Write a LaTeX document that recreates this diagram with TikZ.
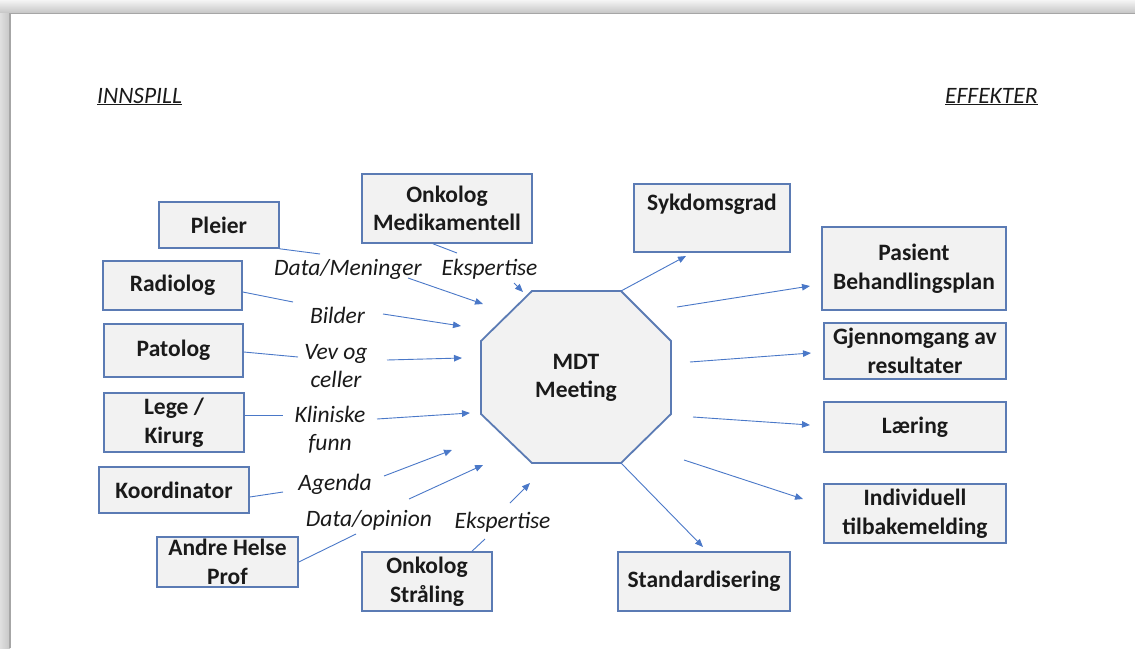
\documentclass[tikz,border=0pt]{standalone}
\usepackage{fontspec}
\setmainfont{Carlito}
\usetikzlibrary{arrows.meta}
\definecolor{boxline}{HTML}{5B7BB4}
\definecolor{boxfill}{HTML}{F2F2F2}
\definecolor{arrowblue}{HTML}{4A78C8}
\definecolor{inktext}{HTML}{1A1A1A}

\begin{document}
\begin{tikzpicture}[x=1pt,y=-1pt,
  every node/.style={text=inktext},
  box/.style={draw=boxline, fill=boxfill, line width=1.6pt, align=center,
    inner sep=2pt, font=\fontsize{23.5}{28.5}\selectfont\bfseries},
  lbl/.style={align=center, inner sep=0pt, font=\fontsize{23.5}{28}\selectfont\itshape},
  hdr/.style={inner sep=0pt, font=\fontsize{23.5}{28}\selectfont\itshape},
  link/.style={draw=arrowblue, line width=0.9pt},
  arr/.style={link, -{Triangle[length=8pt,width=6.5pt]}},
  octo/.style={draw=boxline, fill=boxfill, line width=1.8pt, line join=miter}
]
\useasboundingbox (0,0) rectangle (1135,648);
\fill[white] (0,0) rectangle (1135,648);

% page edge shadow
\shade[top color=gray!8, bottom color=gray!45] (0,0) rectangle (1135,13);
\shade[left color=gray!25, right color=gray!45] (0,13) rectangle (10,648);
\draw[gray!70, line width=1.2pt] (10,648) -- (10,13.5) -- (1135,13.5);

% headings
\node[hdr, anchor=base west] (innspill) at (97,103) {\underline{INNSPILL}};
\node[hdr, anchor=base west] (effekter) at (945,103) {\underline{EFFEKTER}};

% central meeting
\draw[octo] (532,291) -- (621,291) -- (671,341) -- (671,414) -- (621,463)
  -- (532,463) -- (481,414) -- (481,341) -- cycle;
\coordinate (oTR) at (621,291);
\coordinate (oBR) at (621,463);
\node[align=center, inner sep=0pt, font=\fontsize{23.5}{28.5}\selectfont\bfseries]
  (mdt) at (576,378) {MDT\\Meeting};

% input boxes
\node[box, minimum width=120, minimum height=46] (pleier) at (219,225) {Pleier};
\node[box, minimum width=170, minimum height=69] (onkmed) at (447,208.5) {Onkolog\\Medikamentell};
\node[box, minimum width=139, minimum height=49] (radiolog) at (172.5,285.5) {Radiolog};
\node[box, minimum width=139, minimum height=53] (patolog) at (173.5,350.5) {Patolog};
\node[box, minimum width=140, minimum height=59] (lege) at (174,422.5) {Lege /\\Kirurg};
\node[box, minimum width=150, minimum height=46] (koord) at (174,490) {Koordinator};
\node[box, minimum width=141, minimum height=50] (andre) at (227.5,562) {Andre Helse\\Prof};
\node[box, minimum width=130, minimum height=59] (onkstr) at (427,581.5) {Onkolog\\Stråling};

% effect boxes
\node[box, minimum width=156, text height=23pt, text depth=37pt, inner ysep=4pt,
  anchor=north] (sykd) at (712,183) {Sykdomsgrad};
\node[box, minimum width=184, minimum height=83] (pasient) at (914,268.5) {Pasient\\Behandlingsplan};
\node[box, minimum width=182, minimum height=56] (gjenn) at (915,351) {Gjennomgang av\\resultater};
\node[box, minimum width=182, minimum height=50] (laering) at (915,427) {Læring};
\node[box, minimum width=182, minimum height=59] (indiv) at (915,513.5) {Individuell\\tilbakemelding};
\node[box, minimum width=172, minimum height=59] (standard) at (704,581.5) {Standardisering};

% input labels
\node[lbl] (dm) at (348,269) {Data/Meninger};
\node[lbl] (ek1) at (489.5,269) {Ekspertise};
\node[lbl] (bi) at (337.5,315) {Bilder};
\node[lbl] (vev) at (336,366) {Vev og\\celler};
\node[lbl] (kf) at (330,430) {Kliniske\\funn};
\node[lbl] (ag) at (335,484) {Agenda};
\node[lbl] (do) at (369,520) {Data/opinion};
\node[lbl] (ek2) at (502.5,522) {Ekspertise};

% break points around the labels and arrow ends
\coordinate (a1) at (320,254);  \coordinate (b1) at (408,278);  \coordinate (c1) at (483,304);
\coordinate (a2) at (457,253);  \coordinate (b2) at (514,283);  \coordinate (c2) at (523,292);
\coordinate (a3) at (293,302);  \coordinate (b3) at (383,314);  \coordinate (c3) at (461,326);
\coordinate (a4) at (298,357);  \coordinate (b4) at (387,360);  \coordinate (c4) at (462,358);
\coordinate (a5) at (283,415);  \coordinate (b5) at (377,419);  \coordinate (c5) at (470,413);
\coordinate (a6) at (283,492);  \coordinate (b6) at (384,476);  \coordinate (c6) at (452,450);
\coordinate (a7) at (356,534);  \coordinate (b7) at (409,499);  \coordinate (c7) at (483,465);
\coordinate (a8) at (485,539);  \coordinate (b8) at (510,503);  \coordinate (c8) at (530,483);

% input connectors
\draw[link] (pleier.south east) -- (a1);          \draw[arr] (b1) -- (c1);
\draw[link] ([xshift=-14pt]onkmed.south) -- (a2); \draw[arr] (b2) -- (c2);
\draw[link] ([yshift=-6.5pt]radiolog.east) -- (a3); \draw[arr] (b3) -- (c3);
\draw[link] ([yshift=-1.5pt]patolog.east) -- (a4); \draw[arr] (b4) -- (c4);
\draw[link] ([yshift=7.5pt]lege.east) -- (a5);    \draw[arr] (b5) -- (c5);
\draw[link] ([yshift=-7pt]koord.east) -- (a6);    \draw[arr] (b6) -- (c6);
\draw[link] (andre.east) -- (a7);                 \draw[arr] (b7) -- (c7);
\draw[link] ([xshift=45pt]onkstr.north) -- (a8);  \draw[arr] (b8) -- (c8);

% effect connectors
\coordinate (s2) at (677,307); \coordinate (e2) at (810,286);
\coordinate (s3) at (690,362); \coordinate (e3) at (811,353);
\coordinate (s4) at (693,417); \coordinate (e4) at (810,425);
\coordinate (s5) at (684,460); \coordinate (e5) at (803,499);
\coordinate (e1) at (686,256);
\coordinate (e6) at (703,547);
\draw[arr] (oTR) -- (e1);
\draw[arr] (s2) -- (e2);
\draw[arr] (s3) -- (e3);
\draw[arr] (s4) -- (e4);
\draw[arr] (s5) -- (e5);
\draw[arr] (oBR) -- (e6);
\end{tikzpicture}
\end{document}
